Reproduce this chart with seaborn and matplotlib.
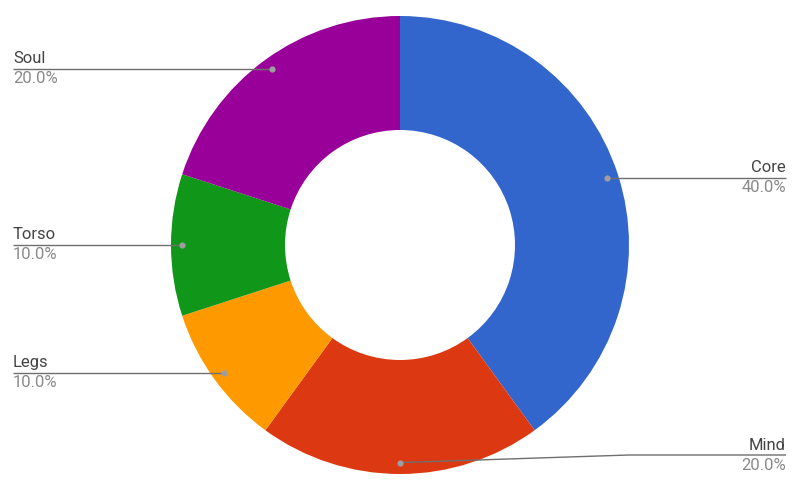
import numpy as np
import seaborn as sns
from matplotlib import pyplot as plt

labels = ['Core', 'Mind', 'Legs', 'Torso', 'Soul']
shares = [40.0, 20.0, 10.0, 10.0, 20.0]
colors = ['#3366CC', '#DC3912', '#FF9900', '#109618', '#990099']

sns.set_style('white')
plt.rcParams['font.family'] = ['Roboto', 'DejaVu Sans']

W, H = 800, 483
cx, cy = 400, 238
radius = 229

fig = plt.figure(figsize=(W / 100, H / 100), dpi=100)
ax = fig.add_axes([0, 0, 1, 1])

wedges, _ = ax.pie(shares, colors=colors, startangle=90, counterclock=False,
                   center=(cx, cy), radius=radius,
                   wedgeprops=dict(width=114, linewidth=0))

ax.set_xlim(0, W)
ax.set_ylim(0, H)
ax.set_aspect('equal')
ax.axis('off')

# leader lines with name above and share below
for w, name, val in zip(wedges, labels, shares):
    mid = np.deg2rad((w.theta1 + w.theta2) / 2)
    px = cx + 0.95 * radius * np.cos(mid)
    py = cy + 0.95 * radius * np.sin(mid)
    ly = max(py, 28)
    if px >= cx - 1:
        xe, ha = 786, 'right'
        knee = cx + radius
    else:
        xe, ha = 13, 'left'
        knee = cx - radius
    if abs(ly - py) > 0.5:
        xs = [px, knee, xe]
        ys = [py, ly, ly]
    else:
        xs = [px, xe]
        ys = [py, ly]
    ax.plot(xs, ys, color='#6f6f6f', lw=1.0, solid_capstyle='butt', zorder=3)
    ax.plot(px, py, 'o', color='#9e9e9e', ms=4.5, mec='none', zorder=4)
    ax.text(xe, ly + 2.5, name, ha=ha, va='bottom', fontsize=12, color='#444444')
    ax.text(xe, ly - 2.5, f'{val:.1f}%', ha=ha, va='top', fontsize=12, color='#8a8a8a')

fig.savefig('out.png', dpi=100, facecolor='white')
